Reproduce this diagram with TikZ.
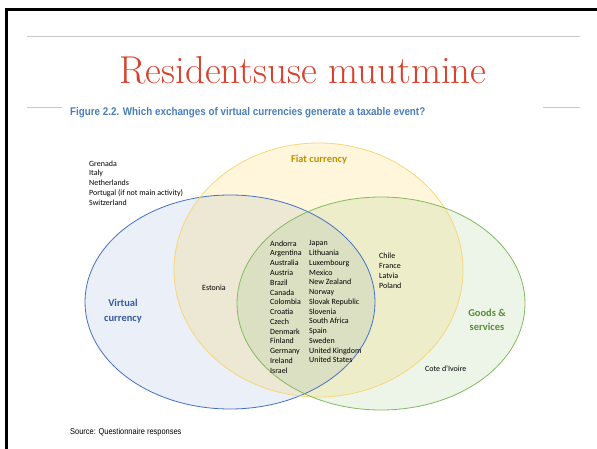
\documentclass[tikz,border=0pt]{standalone}
\usepackage{fontspec}
\newfontfamily\venfont{Carlito}
\newfontfamily\capfont[FakeStretch=0.88]{Liberation Sans}
\usetikzlibrary{positioning}
\definecolor{vcblue}{HTML}{4472C4}
\definecolor{vcyellow}{HTML}{FFC000}
\definecolor{vcline}{HTML}{F7D77A}
\definecolor{vcgreen}{HTML}{70AD47}
\definecolor{titlered}{HTML}{D9412C}
\definecolor{capblue}{HTML}{4A7EBB}

\begin{document}
\begin{tikzpicture}[x=1bp,y=-1bp,
    cty/.style={font=\venfont\fontsize{8}{9.8}\selectfont,align=left,inner sep=0pt,anchor=north west},
    lbl/.style={font=\venfont\bfseries\fontsize{10.5}{14.5}\selectfont,align=center,inner sep=0pt}]
  \useasboundingbox[fill=white] (0,0) rectangle (597,449);
  % slide frame and rules
  \draw[line width=3bp] (6.5,449) -- (6.5,9.5) -- (597,9.5);
  \draw[black!22,line width=0.8bp] (27,36) -- (580,36);
  \draw[black!22,line width=0.8bp] (27,107) -- (62,107) (543,107) -- (580,107);
  \node[font=\fontsize{39}{39}\selectfont,text=titlered] (title) at (303,70) {Residentsuse muutmine};
  \node[font=\capfont\bfseries\fontsize{11.2}{11}\selectfont,text=capblue,anchor=west,inner sep=0pt] (fig) at (70,113) {Figure 2.2. Which exchanges of virtual currencies generate a taxable event?};
  % venn
  \fill[vcblue,fill opacity=0.11] (230,302) ellipse [x radius=145,y radius=107];
  \fill[vcyellow,fill opacity=0.14] (318.5,270) ellipse [x radius=144.5,y radius=127];
  \fill[vcgreen,fill opacity=0.12] (381,303.5) ellipse [x radius=144,y radius=106.5];
  \draw[vcblue,line width=0.8bp] (230,302) ellipse [x radius=145,y radius=107];
  \draw[vcline,line width=0.8bp] (318.5,270) ellipse [x radius=144.5,y radius=127];
  \draw[vcgreen!85,line width=0.8bp] (381,303.5) ellipse [x radius=144,y radius=106.5];
  \node[lbl,text=vcyellow!75!black] (fiat) at (319,160) {Fiat currency};
  \node[lbl,text=vcblue!80!black] (virt) at (123,311) {Virtual\\currency};
  \node[lbl,text=vcgreen!80!black] (goods) at (487,320) {Goods \&\\services};
  \node[cty] (none) at (89,160.5) {Grenada\\Italy\\Netherlands\\Portugal (if not main activity)\\Switzerland};
  \node[cty] (est) at (202,285) {Estonia};
  \node[cty] (all1) at (270,240.5) {Andorra\\Argentina\\Australia\\Austria\\Brazil\\Canada\\Colombia\\Croatia\\Czech\\Denmark\\Finland\\Germany\\Ireland\\Israel};
  \node[cty] (all2) at (309,240.5) {Japan\\Lithuania\\Luxembourg\\Mexico\\New Zealand\\Norway\\Slovak Republic\\Slovenia\\South Africa\\Spain\\Sweden\\United Kingdom\\United States};
  \node[cty] (fg) at (379,253) {Chile\\France\\Latvia\\Poland};
  \node[cty] (gs) at (425,366) {Cote d’Ivoire};
  \node[font=\capfont\fontsize{8.5}{9}\selectfont,anchor=west,inner sep=0pt] (src) at (70,432) {Source: Questionnaire responses};
\end{tikzpicture}
\end{document}
